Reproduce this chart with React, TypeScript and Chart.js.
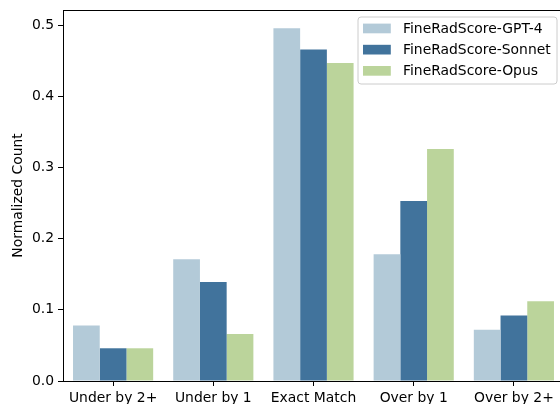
import React, { useEffect, useRef } from "react";
import { Chart, registerables } from "chart.js";

Chart.register(...registerables);

const categories = ["Under by 2+", "Under by 1", "Exact Match", "Over by 1", "Over by 2+"];
const seriesNames = ["FineRadScore-GPT-4", "FineRadScore-Sonnet", "FineRadScore-Opus"];
const gpt4Values = [0.078, 0.171, 0.496, 0.178, 0.072];
const sonnetValues = [0.046, 0.139, 0.466, 0.253, 0.092];
const opusValues = [0.046, 0.066, 0.447, 0.326, 0.112];
const seriesColors = ["#b3cad8", "#41739c", "#bbd49b"];
const yTicks = [0, 0.1, 0.2, 0.3, 0.4, 0.5];
const yMax = 0.5215;

const FONT = "'DejaVu Sans', sans-serif";
const FS = 13.9;

const frameAndLegend = {
  id: "frameAndLegend",
  afterDraw(chart: any) {
    const { ctx, chartArea } = chart;
    ctx.save();
    ctx.strokeStyle = "#000";
    ctx.lineWidth = 1;
    ctx.beginPath();
    ctx.moveTo(chartArea.left, Math.round(chartArea.top) + 0.5);
    ctx.lineTo(chartArea.right, Math.round(chartArea.top) + 0.5);
    ctx.stroke();
    ctx.beginPath();
    ctx.moveTo(chartArea.right - 0.5, chartArea.top);
    ctx.lineTo(chartArea.right - 0.5, chartArea.bottom);
    ctx.stroke();

    const ds = chart.data.datasets;
    const boxRight = chartArea.right - 7;
    const boxLeft = 358;
    const boxTop = chartArea.top + 7;
    const rowH = 21.2;
    const boxH = 67;
    const r = 3;
    ctx.beginPath();
    ctx.moveTo(boxLeft + r, boxTop);
    ctx.lineTo(boxRight - r, boxTop);
    ctx.arcTo(boxRight, boxTop, boxRight, boxTop + r, r);
    ctx.lineTo(boxRight, boxTop + boxH - r);
    ctx.arcTo(boxRight, boxTop + boxH, boxRight - r, boxTop + boxH, r);
    ctx.lineTo(boxLeft + r, boxTop + boxH);
    ctx.arcTo(boxLeft, boxTop + boxH, boxLeft, boxTop + boxH - r, r);
    ctx.lineTo(boxLeft, boxTop + r);
    ctx.arcTo(boxLeft, boxTop, boxLeft + r, boxTop, r);
    ctx.closePath();
    ctx.fillStyle = "rgba(255,255,255,0.8)";
    ctx.fill();
    ctx.strokeStyle = "#cccccc";
    ctx.lineWidth = 1;
    ctx.stroke();

    ctx.font = `${FS}px ${FONT}`;
    ctx.textBaseline = "middle";
    ctx.textAlign = "left";
    ds.forEach((d: any, i: number) => {
      const cy = boxTop + 11.5 + i * rowH;
      ctx.fillStyle = d.backgroundColor;
      ctx.fillRect(363, cy - 4.9, 27.8, 9.7);
      ctx.fillStyle = "#000";
      ctx.fillText(d.label, 403, cy + 0.5);
    });
    ctx.restore();
  },
};

export default function App() {
  const ref = useRef<HTMLCanvasElement>(null);
  useEffect(() => {
    if (!ref.current) return;
    const chart = new Chart(ref.current, {
      type: "bar",
      data: {
        labels: categories,
        datasets: [gpt4Values, sonnetValues, opusValues].map((vals, i) => ({
          label: seriesNames[i],
          data: vals,
          backgroundColor: seriesColors[i],
          borderWidth: 0,
          categoryPercentage: 0.8,
          barPercentage: 1.0,
        })),
      },
      options: {
        animation: false,
        responsive: false,
        devicePixelRatio: 1,
        layout: { padding: { top: 10, right: 6, left: 0, bottom: 0 } },
        plugins: { legend: { display: false }, tooltip: { enabled: false } },
        scales: {
          x: {
            offset: true,
            grid: {
              display: true,
              offset: false,
              drawOnChartArea: false,
              drawTicks: true,
              tickLength: 5,
              color: "#000",
              tickWidth: 1,
            },
            border: { display: true, color: "#000", width: 1 },
            ticks: {
              color: "#000",
              font: { family: FONT, size: FS },
              padding: 4,
              maxRotation: 0,
              autoSkip: false,
            },
            afterFit: (s: any) => {
              s.height = 23;
              s.paddingLeft = 0;
              s.paddingRight = 0;
            },
          },
          y: {
            min: 0,
            max: yMax,
            afterBuildTicks: (s: any) => {
              s.ticks = yTicks.map((v) => ({ value: v }));
            },
            grid: {
              display: true,
              drawOnChartArea: false,
              drawTicks: true,
              tickLength: 5,
              color: "#000",
              tickWidth: 1,
            },
            border: { display: true, color: "#000", width: 1 },
            ticks: {
              color: "#000",
              font: { family: FONT, size: FS },
              padding: 4,
              callback: (v: any) => Number(v).toFixed(1),
            },
            title: {
              display: true,
              text: "Normalized Count",
              color: "#000",
              font: { family: FONT, size: FS },
              padding: { top: 10, bottom: 0 },
            },
            afterFit: (s: any) => {
              s.width = 63;
              s.paddingTop = 0;
              s.paddingBottom = 0;
            },
          },
        },
      },
      plugins: [frameAndLegend],
    });
    return () => chart.destroy();
  }, []);
  return (
    <div
      style={{
        position: "fixed",
        left: 0,
        top: 0,
        width: 560,
        height: 404,
        overflow: "hidden",
        background: "#fff",
      }}
    >
      <canvas ref={ref} width={570} height={404} style={{ display: "block" }} />
    </div>
  );
}
